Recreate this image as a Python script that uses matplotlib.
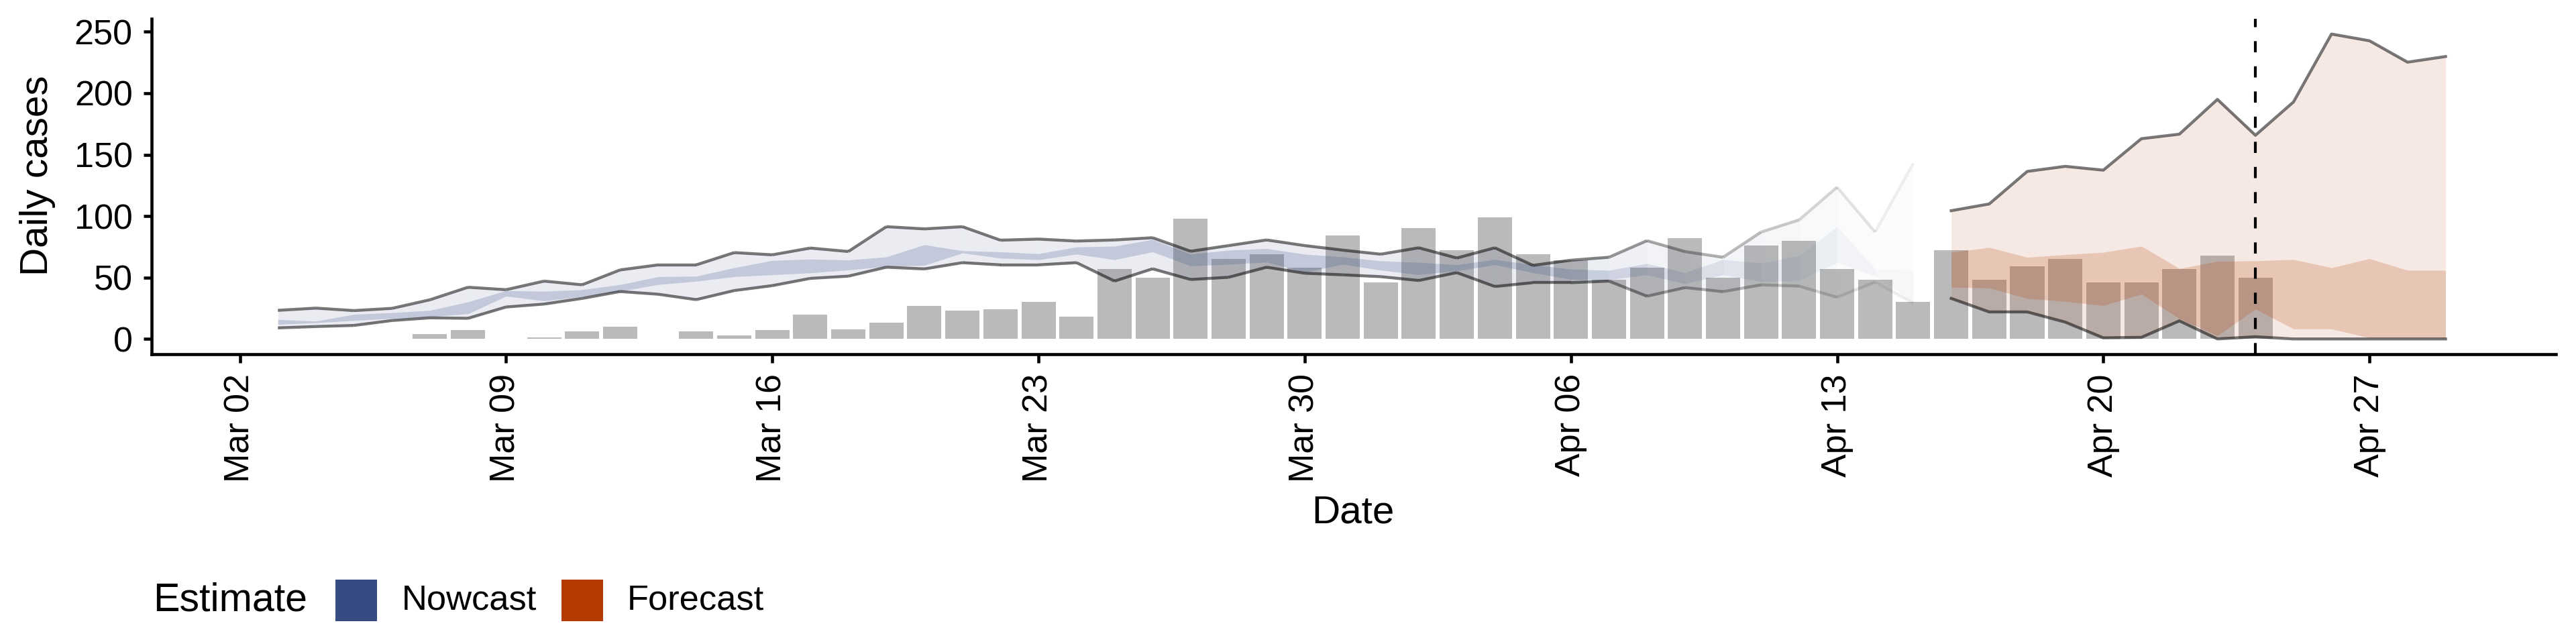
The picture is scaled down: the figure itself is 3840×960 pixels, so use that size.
import matplotlib
matplotlib.use("Agg")
import matplotlib.pyplot as plt
import matplotlib.dates as mdates
from matplotlib.collections import LineCollection
from matplotlib.patches import Rectangle
import pandas as pd

plt.rcParams['font.family'] = ['Liberation Sans', 'DejaVu Sans']

# reported daily cases (bars)
case_dates = pd.date_range('2020-03-03', periods=53)
cases = [0, 0, 0, 0, 4, 7, 0, 1, 6, 10,
         0, 6, 3, 7, 20, 8, 13, 27, 23, 24,
         30, 18, 57, 50, 98, 65, 69, 58, 84, 46,
         90, 72, 99, 69, 64, 48, 58, 82, 50, 76,
         80, 57, 48, 30, 72, 48, 59, 65, 46, 46,
         57, 68, 50]

# nowcast intervals
nowcast_dates = pd.date_range('2020-03-03', periods=44)
now_lo90 = [9.0, 10.1, 11.0, 15.0, 17.2, 16.8, 26.0, 28.4, 33.0, 38.6,
            36.4, 32.0, 39.4, 43.4, 49.3, 51.1, 58.4, 57.0, 62.1, 60.3,
            60.3, 62.1, 47.1, 57.1, 48.4, 50.2, 58.4, 53.5, 52.2, 50.7,
            47.6, 54.0, 42.7, 45.8, 45.8, 47.1, 34.8, 41.8, 38.5, 44.0,
            43.0, 33.9, 46.3, 29.3]
now_hi90 = [23.3, 25.1, 23.1, 24.9, 31.9, 42.1, 40.1, 47.1, 44.1, 56.2,
            60.3, 60.3, 70.3, 68.5, 74.0, 71.2, 91.4, 89.6, 91.4, 80.4,
            81.3, 79.7, 80.6, 82.4, 71.4, 76.0, 80.6, 76.0, 72.3, 69.0,
            74.2, 65.9, 74.2, 59.9, 64.1, 66.5, 80.0, 71.1, 66.5, 87.0,
            96.9, 123.6, 87.0, 142.9]
now_lo50 = [11.9, 13.2, 15.0, 16.8, 18.1, 20.5, 34.8, 31.0, 34.6, 38.8,
            44.3, 47.0, 50.7, 52.2, 53.8, 56.2, 59.0, 59.9, 70.0, 65.8,
            64.5, 69.0, 64.5, 70.9, 59.5, 60.8, 62.6, 54.4, 60.8, 56.0,
            52.4, 55.5, 60.4, 54.0, 48.5, 48.2, 52.2, 44.9, 52.2, 46.7,
            47.6, 62.3, 51.3, 30.2]
now_hi50 = [15.9, 14.5, 20.1, 21.4, 23.3, 30.2, 39.4, 38.8, 40.1, 44.3,
            50.7, 51.1, 58.0, 63.9, 65.0, 64.3, 66.8, 76.7, 71.8, 70.9,
            69.4, 74.9, 75.5, 81.0, 69.0, 72.3, 73.6, 69.0, 66.8, 63.6,
            62.3, 60.4, 64.7, 60.4, 56.8, 55.9, 61.4, 54.0, 64.7, 61.7,
            67.8, 91.6, 56.8, 55.9]
now_confidence = [1.0] * 35 + [0.85, 0.7, 0.62, 0.55, 0.45, 0.35, 0.25, 0.15, 0.08]

# forecast intervals
forecast_dates = pd.date_range('2020-04-16', periods=14)
fc_lo90 = [33.0, 22.0, 22.0, 13.7, 0.9, 1.3, 14.7, 0.0, 1.8, 0.0, 0.0, 0.0, 0.0, 0.0]
fc_hi90 = [104.4, 109.9, 136.4, 140.5, 137.4, 163.0, 166.7, 195.0, 165.8, 192.9,
           248.2, 242.7, 225.3, 229.9]
fc_lo50 = [42.1, 41.6, 33.0, 30.6, 27.2, 36.6, 16.5, 2.7, 24.4, 8.2, 8.2, 0.9, 0.9, 0.9]
fc_hi50 = [70.5, 74.5, 66.5, 68.7, 70.5, 75.6, 57.3, 63.2, 63.6, 64.7, 58.0, 65.4, 55.9, 55.9]

report_date = pd.Timestamp('2020-04-24')
tick_dates = pd.date_range('2020-03-02', '2020-04-27', freq='7D')

NOWCAST_COL = '#354b82'
FORECAST_COL = '#b33a02'
LINE_W = 1.05
W, H = 3840, 960

fig = plt.figure(figsize=(12.8, 3.2), dpi=300)
ax = fig.add_axes([226 / W, 1 - 528 / H, (3810 - 226) / W, 500 / H])

ax.bar(mdates.date2num(case_dates), cases, width=0.9, color='#bababa', lw=0, zorder=1)

# nowcast ribbons drawn day by day so they can fade out
xn = mdates.date2num(nowcast_dates)
for i in range(len(xn) - 1):
    c = (now_confidence[i] + now_confidence[i + 1]) / 2
    ax.fill_between(xn[i:i + 2], now_lo90[i:i + 2], now_hi90[i:i + 2],
                    color=NOWCAST_COL, alpha=0.1 * c, lw=0, zorder=2)
    ax.fill_between(xn[i:i + 2], now_lo50[i:i + 2], now_hi50[i:i + 2],
                    color=NOWCAST_COL, alpha=0.21 * c, lw=0, zorder=2)

for bound in (now_lo90, now_hi90):
    segs = [[(xn[i], bound[i]), (xn[i + 1], bound[i + 1])] for i in range(len(xn) - 1)]
    cols = [(0, 0, 0, 0.53 * (now_confidence[i] + now_confidence[i + 1]) / 2)
            for i in range(len(xn) - 1)]
    ax.add_collection(LineCollection(segs, colors=cols, linewidths=LINE_W,
                                     capstyle='butt', zorder=3))

# forecast
xf = mdates.date2num(forecast_dates)
ax.fill_between(xf, fc_lo90, fc_hi90, color=FORECAST_COL, alpha=0.11, lw=0, zorder=2)
ax.fill_between(xf, fc_lo50, fc_hi50, color=FORECAST_COL, alpha=0.2, lw=0, zorder=2)
ax.plot(xf, fc_lo90, color='black', alpha=0.53, lw=LINE_W, zorder=3)
ax.plot(xf, fc_hi90, color='black', alpha=0.53, lw=LINE_W, zorder=3)

ax.axvline(mdates.date2num(report_date), color='black', lw=1.0, ls=(0, (4, 5)), zorder=4)

# axes
x0 = mdates.date2num(pd.Timestamp('2020-03-02'))
ax.set_xlim(x0 - 2.32, x0 + 60.9)
ymax = max(fc_hi90)
ax.set_ylim(-0.05 * ymax, 1.05 * ymax)
ax.set_yticks([0, 50, 100, 150, 200, 250])
ax.set_xticks(mdates.date2num(tick_dates))
ax.set_xticklabels([d.strftime('%b %d') for d in tick_dates], rotation=90, ha='center', va='top')

for s in ('top', 'right'):
    ax.spines[s].set_visible(False)
for s in ('left', 'bottom'):
    ax.spines[s].set_linewidth(1.1)
ax.tick_params(length=3, width=1.1, labelsize=12.5, colors='black')
ax.tick_params(axis='x', pad=4)
ax.tick_params(axis='y', pad=3.8)

fig.text(2017 / W, 1 - 764 / H, 'Date', ha='center', va='center', fontsize=14)
fig.text(56 / W, 1 - 262 / H, 'Daily cases', rotation=90, ha='center', va='center', fontsize=14)

# legend at the bottom
fig.text(228 / W, 1 - 895 / H, 'Estimate', ha='left', va='center', fontsize=14.2)
for kx, tx, col, lab in ((500, 599, NOWCAST_COL, 'Nowcast'), (837, 935, FORECAST_COL, 'Forecast')):
    fig.add_artist(Rectangle((kx / W, 1 - 926 / H), 62 / W, 62 / H,
                             transform=fig.transFigure, color=col, lw=0))
    fig.text(tx / W, 1 - 895 / H, lab, ha='left', va='center', fontsize=12.6)

fig.savefig('out.png', dpi=300)
